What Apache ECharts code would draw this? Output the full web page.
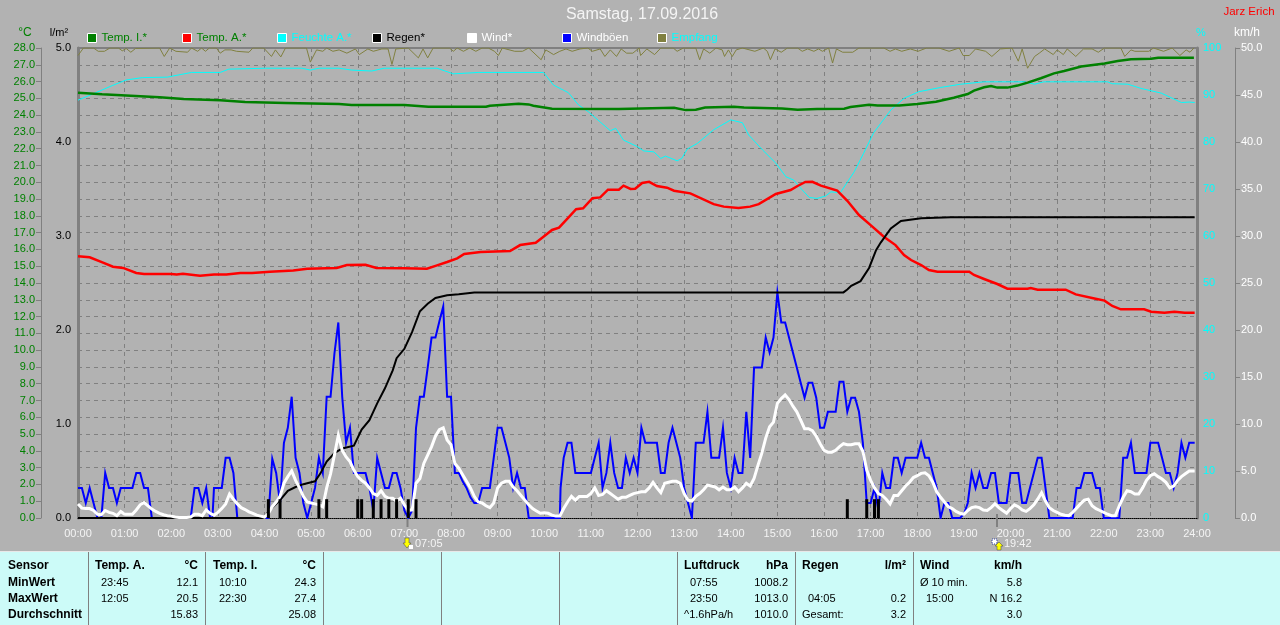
<!DOCTYPE html>
<html>
<head>
<meta charset="utf-8">
<style>html,body{margin:0;padding:0;background:#b2b2b2;overflow:hidden}#c{width:1280px;height:625px}</style>
<script src="https://cdn.jsdelivr.net/npm/echarts@6/dist/echarts.min.js"></script>
</head>
<body>
<div id="c"></div>
<script>
const titleText = 'Samstag, 17.09.2016';
const authorText = 'Jarz Erich';
const tempTicks = 28, rainMax = 5, humMax = 100, windMax = 50;

// [minute of day, value]
const tempInner = [[0,25.34],[31,25.24],[68,25.16],[105,25.06],[136,24.96],[183,24.88],[215,24.78],[267,24.72],[336,24.66],[352,24.6],[420,24.6],[451,24.5],[525,24.5],[530,24.56],[567,24.68],[580,24.64],[586,24.56],[610,24.38],[696,24.37],[698,24.45],[767,24.44],[782,24.3],[795,24.32],[807,24.45],[844,24.5],[857,24.45],[906,24.4],[926,24.32],[951,24.37],[986,24.38],[994,24.48],[1018,24.62],[1029,24.57],[1057,24.57],[1080,24.66],[1104,24.8],[1127,25.04],[1145,25.26],[1153,25.46],[1166,25.66],[1175,25.74],[1183,25.64],[1196,25.64],[1209,25.76],[1222,25.94],[1239,26.2],[1256,26.49],[1269,26.63],[1291,26.9],[1321,27.08],[1338,27.22],[1355,27.33],[1381,27.36],[1390,27.42],[1436,27.42]];
const tempOuter = [[0,15.6],[15,15.53],[33,15.2],[45,14.97],[58,14.9],[75,14.6],[85,14.54],[120,14.54],[127,14.5],[135,14.55],[157,14.43],[175,14.5],[191,14.5],[209,14.6],[224,14.6],[247,14.67],[277,14.74],[295,14.85],[333,14.9],[346,15.07],[370,15.08],[384,14.9],[419,14.88],[449,14.85],[462,15.05],[475,15.25],[488,15.47],[497,15.73],[518,15.85],[556,15.9],[569,16.26],[589,16.4],[599,16.76],[610,17.16],[619,17.3],[631,17.9],[641,18.4],[650,18.45],[662,19.05],[672,19.1],[682,19.56],[696,19.56],[702,19.8],[711,19.6],[717,19.62],[726,19.96],[735,20.03],[745,19.78],[758,19.68],[767,19.5],[788,19.34],[818,18.7],[831,18.55],[850,18.47],[865,18.55],[876,18.7],[898,19.3],[917,19.54],[926,19.78],[936,20.02],[945,20.03],[956,19.8],[977,19.5],[990,18.9],[1005,18.05],[1020,17.45],[1037,16.76],[1052,16.26],[1063,15.67],[1072,15.37],[1085,15.07],[1095,14.77],[1106,14.67],[1147,14.67],[1153,14.48],[1166,14.24],[1183,13.94],[1196,13.66],[1222,13.66],[1226,13.7],[1235,13.6],[1271,13.6],[1284,13.32],[1308,13.08],[1321,12.95],[1331,12.63],[1342,12.43],[1372,12.43],[1381,12.29],[1398,12.23],[1411,12.29],[1424,12.23],[1437,12.23]];
const humidity = [[0,88.9],[23,90.5],[44,92],[62,93.2],[83,93.7],[115,93.8],[146,94.8],[183,94.8],[194,95.5],[241,95.7],[288,95.7],[299,95.3],[310,95.7],[336,95.7],[352,95.3],[378,95.1],[394,95.7],[462,95.7],[483,94.5],[515,94.8],[599,94.8],[612,92.1],[625,91],[631,90.5],[644,87.9],[657,86.4],[685,82.4],[692,82.9],[702,80.4],[720,79],[728,78.1],[741,77.9],[750,76.5],[756,77],[771,76],[777,76.5],[784,78.5],[797,79.7],[818,82.6],[840,84.7],[855,84.1],[863,81.5],[881,78.3],[898,75.5],[911,72.6],[921,71.9],[932,69.8],[941,68.2],[951,68],[962,68.5],[969,69.4],[981,69.2],[999,73.7],[1011,77.6],[1024,82],[1046,86.8],[1063,89.3],[1082,90.7],[1110,91.6],[1136,92.3],[1166,92.8],[1218,92.8],[1231,92.3],[1243,92.8],[1325,92.8],[1331,92.4],[1351,92.3],[1368,91.4],[1394,90.4],[1420,88.4],[1430,88.5],[1437,88.4]];
const rainTotal = [[0,0],[240,0],[245,0.07],[260,0.19],[270,0.29],[280,0.33],[290,0.36],[300,0.38],[305,0.39],[312,0.475],[320,0.6],[330,0.69],[340,0.74],[355,0.77],[365,0.94],[375,1.04],[385,1.22],[395,1.38],[405,1.57],[410,1.7],[420,1.8],[430,1.98],[440,2.2],[450,2.28],[460,2.34],[475,2.37],[490,2.38],[510,2.4],[985,2.4],[990,2.43],[995,2.47],[1007,2.52],[1018,2.66],[1027,2.85],[1033,2.93],[1046,3.08],[1059,3.16],[1085,3.19],[1123,3.2],[1437,3.2]];
const rainBars = [[245,0.2],[260,0.2],[310,0.2],[320,0.2],[360,0.2],[365,0.2],[380,0.2],[390,0.2],[400,0.2],[410,0.2],[425,0.2],[435,0.2],[990,0.2],[1015,0.2],[1025,0.2],[1030,0.2]];
const wind = [[0,1.5],[5,1.05],[10,1],[15,1],[20,0.8],[25,0.4],[30,0.35],[35,0.8],[40,0.6],[45,0.5],[50,0.25],[55,0.7],[60,0.4],[70,0.4],[75,0.85],[80,1.4],[85,1.65],[90,1.3],[95,0.95],[100,0.7],[105,0.5],[110,0.35],[115,0.25],[120,0.2],[125,0.1],[130,0.05],[140,0.05],[145,0.1],[150,0.4],[155,0.4],[160,0.25],[165,0.85],[170,0.5],[175,0.3],[180,0.6],[185,1],[190,1.5],[195,2.55],[200,2],[205,1.5],[210,1.1],[215,0.9],[220,0.65],[225,0.5],[230,0.3],[235,0.2],[240,0.1],[245,0.5],[250,1.2],[255,1.7],[260,2.3],[265,3.7],[270,4.4],[275,5],[280,4],[285,3.2],[290,2.3],[295,1.7],[300,1.6],[305,1.5],[310,1.4],[315,1.2],[320,3.2],[325,4.7],[330,6.7],[335,8.8],[340,7.2],[345,6.5],[350,6],[355,5.1],[360,4.4],[365,4],[370,3.7],[375,3.2],[380,2.6],[385,2.4],[390,2.9],[395,2.3],[400,2.1],[405,2.1],[410,1.8],[415,2.1],[420,1.4],[425,0.85],[430,0.85],[435,3.7],[440,4.2],[445,5.8],[450,6.7],[455,7.6],[460,8.7],[465,9.4],[470,9.6],[475,8.3],[480,7.8],[485,5.8],[490,5.3],[495,4.6],[500,3.9],[505,3.2],[510,2.3],[515,1.7],[520,1.6],[525,1.3],[530,1.1],[535,1.6],[540,3.2],[545,3.7],[550,3.9],[555,3.9],[560,3.3],[565,2.9],[570,2.4],[575,1.9],[580,1.4],[585,1],[590,0.75],[595,0.5],[600,0.55],[605,0.5],[610,0.3],[615,0.2],[620,0.2],[625,1],[630,1.7],[635,2.3],[640,1.9],[645,2.3],[655,2.3],[660,2.6],[665,3.2],[670,2.4],[675,2.5],[680,2.9],[685,2.6],[690,2.3],[695,2],[700,2.2],[705,2.2],[710,2.4],[715,2.6],[720,2.7],[725,2.8],[730,2.8],[735,3.2],[740,3.8],[745,3.2],[750,2.7],[755,3.7],[760,3.8],[765,3.9],[770,3.9],[775,3.7],[780,2.6],[785,1.9],[790,1.8],[795,2.3],[800,2.6],[805,3],[810,3.5],[815,3.4],[820,3.3],[825,3],[830,3.3],[835,3],[840,3],[845,3.3],[850,2.8],[855,3.2],[860,3.7],[865,3.4],[870,4.2],[875,5.6],[880,6.9],[885,8.5],[890,9.7],[895,10.2],[900,12.2],[905,12.7],[910,13.1],[915,12.6],[920,11.9],[925,11.3],[930,10.4],[935,9.5],[940,9.5],[945,9.3],[950,8.7],[955,7.9],[960,7.2],[965,7],[970,7],[975,7.2],[980,7.6],[985,7.9],[990,7.8],[995,7.8],[1000,7.9],[1005,7.9],[1010,7.1],[1015,5.1],[1020,4],[1025,3.2],[1030,2.6],[1035,2.4],[1040,2],[1045,1.5],[1050,2.4],[1055,2.4],[1060,2.9],[1065,3.4],[1070,3.8],[1075,4.3],[1080,4.5],[1085,4.75],[1090,4.8],[1095,4.5],[1100,3.8],[1105,2.8],[1110,2.2],[1115,1.7],[1120,1.2],[1125,1],[1130,0.7],[1135,0.5],[1140,0.4],[1145,0.8],[1150,1.1],[1155,1.2],[1160,1.1],[1165,0.85],[1170,0.8],[1175,1.1],[1180,1.5],[1185,1.1],[1190,0.8],[1195,0.5],[1200,1],[1205,1.4],[1210,1.2],[1215,0.85],[1220,0.7],[1225,1],[1230,1.4],[1235,2],[1240,2.7],[1245,1.8],[1250,1.1],[1255,0.8],[1260,0.6],[1265,0.4],[1270,0.3],[1275,0.25],[1280,0.6],[1285,1.05],[1290,1.5],[1295,1.9],[1300,2],[1305,1.3],[1310,1],[1315,0.8],[1320,0.6],[1325,0.4],[1330,0.25],[1335,0.25],[1340,1.3],[1345,2.2],[1350,2.9],[1355,2.8],[1360,2.55],[1365,2.55],[1370,3.2],[1375,4],[1380,4.5],[1385,4.7],[1390,4.4],[1395,4.15],[1400,3.8],[1405,3.2],[1410,3.4],[1415,4],[1420,4.4],[1425,4.7],[1430,5],[1437,5]];
const gusts = [[0,3.2],[5,3.2],[10,1.6],[15,3.2],[20,1.6],[25,0],[30,0],[35,4.8],[40,3.2],[45,3.2],[50,1.6],[55,3.2],[60,3.2],[70,3.2],[75,4.8],[80,4.8],[85,3.2],[90,3.2],[95,0],[145,0],[150,3.2],[155,3.2],[160,1.6],[165,3.2],[170,0],[173,0],[175,3.2],[185,3.2],[190,6.4],[195,6.4],[200,4.8],[205,0],[245,0],[250,6.3],[255,4.8],[260,1.6],[265,8],[270,9.6],[275,12.9],[280,6.4],[285,4.8],[290,1.6],[295,0],[300,1.6],[305,3.2],[310,6.4],[315,4.8],[320,12.9],[325,12.9],[330,17.5],[335,20.8],[340,12.9],[345,8],[350,9.6],[355,4.8],[370,4.8],[375,3.2],[380,0.8],[385,6.4],[390,4.8],[395,3.2],[400,3.2],[405,4.8],[410,4.8],[415,3.2],[420,0.8],[425,0],[430,0.8],[435,9.6],[440,12.9],[445,12.9],[450,16],[455,19.2],[460,19.2],[465,20.9],[470,22.5],[475,12.9],[480,12.9],[485,4.8],[490,4.8],[495,3.9],[500,3.2],[505,2.2],[510,1.6],[515,1.6],[520,3.2],[530,3.2],[535,6.4],[540,9.6],[545,9.6],[550,8],[555,6.4],[560,3.2],[565,4.8],[570,3.2],[575,3.2],[580,0],[620,0],[621,3.2],[625,6.4],[630,8],[635,8],[640,4.8],[660,4.8],[665,6.4],[670,8],[675,3.2],[680,4.8],[685,8],[690,4.8],[695,3.2],[700,3.2],[705,6.4],[710,4.8],[715,6.4],[720,4.8],[725,9.6],[730,8],[745,8],[750,4.8],[755,4.8],[760,8],[765,9.6],[770,8],[775,6.4],[780,3.2],[785,1.6],[790,0],[795,8],[805,8],[810,11.3],[815,6.4],[825,6.4],[830,9.6],[835,4.8],[840,3.2],[845,6.4],[850,4.8],[855,4.8],[860,11.3],[865,6.4],[870,16],[880,16],[885,19.2],[890,17.6],[895,19.2],[900,24],[905,20.8],[910,20.8],[915,19.2],[920,17.6],[925,16],[930,14.4],[935,12.8],[940,14.4],[945,14.4],[950,12.8],[955,9.6],[960,9.6],[965,11.3],[975,11.3],[980,14.5],[985,14.5],[990,11.3],[995,12.8],[1000,12.8],[1005,11.3],[1010,8],[1015,1.6],[1020,1.6],[1025,3.2],[1030,0.8],[1035,4.8],[1040,3.2],[1045,3.2],[1050,6.4],[1055,6.4],[1060,4.8],[1065,6.4],[1080,6.4],[1085,8],[1090,6.4],[1095,6.4],[1100,4.8],[1105,3.2],[1110,0],[1115,1.6],[1120,1.6],[1125,0],[1135,0],[1140,0.4],[1145,1.6],[1150,4.8],[1155,3.2],[1160,4.8],[1165,3.2],[1170,3.2],[1175,4.8],[1180,4.8],[1185,1.6],[1195,1.6],[1200,4.8],[1210,4.8],[1215,1.6],[1220,1.6],[1225,3.2],[1230,4.8],[1235,6.4],[1240,6.4],[1245,3.2],[1250,0],[1280,0],[1285,3.2],[1290,3.2],[1295,4.8],[1305,4.8],[1310,3.2],[1315,3.2],[1320,0],[1340,0],[1345,6.4],[1350,6.4],[1355,8],[1360,4.8],[1375,4.8],[1380,8],[1390,8],[1395,6.4],[1400,4.8],[1405,4.8],[1410,3.2],[1415,4.8],[1420,8],[1425,6.4],[1430,8],[1437,8]];
const reception = [[0,98.4],[7,100],[20,100],[26,99.3],[34,99.3],[41,100],[52,100],[57,99.4],[62,99.9],[68,99.1],[74,99.9],[105,100],[111,98.2],[118,100],[126,99.3],[141,99.1],[146,100],[154,99.3],[159,100],[164,99.3],[169,100],[178,100],[183,98.9],[189,99.6],[197,99.6],[204,99.3],[220,99.1],[225,100],[239,100],[249,98.2],[254,99.6],[261,98.1],[267,100],[294,100],[299,97],[307,99.6],[315,99.3],[320,100],[328,99.3],[336,99.6],[346,98.9],[357,99.8],[362,98.6],[373,99.8],[380,99.3],[391,99.8],[399,99.8],[404,96.5],[409,99.8],[425,100],[438,97.9],[444,99.8],[450,97.9],[457,100],[478,100],[483,99.3],[488,100],[496,99.3],[504,100],[512,99.3],[520,100],[528,100],[536,99.3],[541,98.4],[546,100],[562,99.3],[572,99.3],[580,100],[596,97.5],[602,99.6],[612,98.6],[620,99.3],[628,99.8],[636,99.3],[646,99.8],[656,100],[662,99.3],[672,99.8],[678,98.2],[685,99.6],[693,98.2],[699,99.8],[706,98.9],[714,98.9],[722,100],[724,98.4],[732,99.8],[742,98.6],[750,100],[766,100],[771,99.3],[779,100],[795,100],[800,97.5],[805,99.8],[813,98.9],[821,100],[829,99.6],[832,98.2],[837,99.6],[842,98.2],[847,99.6],[855,100],[871,99.3],[882,100],[887,99.3],[891,97.5],[897,99.8],[905,99.1],[913,100],[926,100],[932,99.3],[939,99.8],[947,99.3],[953,99.8],[958,99.3],[966,100],[971,96.8],[976,99.8],[984,99.1],[997,99.1],[1005,100],[1037,100],[1045,99.3],[1052,99.8],[1060,99.3],[1071,99.8],[1081,99.3],[1092,100],[1108,100],[1121,99.3],[1134,100],[1139,98.4],[1147,98.4],[1155,99.8],[1168,99.3],[1176,98.2],[1187,99.8],[1202,100],[1210,97.2],[1215,99.8],[1222,95.7],[1231,98.2],[1237,98.9],[1244,99.8],[1255,98.6],[1260,99.6],[1268,98.6],[1273,99.8],[1284,98.2],[1294,99.8],[1305,99.8],[1313,99.1],[1321,100],[1342,100],[1347,98.2],[1355,99.6],[1360,99.3],[1378,99.3],[1384,100],[1397,99.3],[1408,100],[1418,98.4],[1426,99.6],[1431,99.1],[1436,100]];

const legendNames = ['Temp. I.*','Temp. A.*','Feuchte A.*','Regen*','Wind*','Windböen','Empfang'];
const legendSwatches = ['#008000','#ff0000','#00ffff','#000000','#ffffff','#0000ff','#808040'];
const legendTextColors = ['#008000','#008000','#00ffff','#000000','#ffffff','#ffffff','#00ffff'];

const panelSensor = ['Sensor','MinWert','MaxWert','Durchschnitt'];
const panelTempA = {head:'Temp. A.',unit:'°C',left:['23:45','12:05',''],right:['12.1','20.5','15.83']};
const panelTempI = {head:'Temp. I.',unit:'°C',left:['10:10','22:30',''],right:['24.3','27.4','25.08']};
const panelPress = {head:'Luftdruck',unit:'hPa',left:['07:55','23:50','^1.6hPa/h'],right:['1008.2','1013.0','1010.0']};
const panelRain = {head:'Regen',unit:'l/m²',left:['','04:05','Gesamt:'],right:['','0.2','3.2']};
const panelWind = {head:'Wind',unit:'km/h',left:['Ø 10 min.','15:00',''],right:['5.8','N 16.2','3.0']};
const sunriseText = '07:05', sunsetText = '19:42';

const FONT = '"Liberation Sans", Arial, sans-serif';
const GRID = {left:78, right:83, top:48, bottom:107};
const AXIS = '#808080';
const fmt1 = v => v.toFixed(1);
const hhmm = v => String(v/60).padStart(2,'0') + ':00';

function txt(text,x,y,o){o=o||{};return {type:'text',silent:true,z:o.z||10,style:{text,x,y,fill:o.fill||'#000',textAlign:o.align||'left',textVerticalAlign:'middle',font:(o.bold?'bold ':'')+(o.size||11)+'px '+FONT}};}
function vline(x,y1,y2,c,w){return {type:'line',silent:true,z:5,shape:{x1:x,y1,x2:x,y2},style:{stroke:c,lineWidth:w||1}};}

const rowY = [566,583,599,615];
const graphics = [
  {type:'rect',silent:true,z:1,shape:{x:0,y:552,width:1280,height:73},style:{fill:'#ccfbf8'}},
  {type:'line',silent:true,z:2,shape:{x1:0,y1:551.5,x2:1280,y2:551.5},style:{stroke:'#e8e8e8',lineWidth:1}},
  txt(titleText,642,15,{fill:'#f4f4f4',size:16,align:'center'}),
  txt(authorText,1249,12,{fill:'#ff0000',size:11.5,align:'center'}),
  txt('°C',25,33,{fill:'#008000',size:12,align:'center'}),
  txt('l/m²',59,33,{size:11,align:'center'}),
  txt('%',1201,33,{fill:'#00ffff',size:11,align:'center'}),
  txt('km/h',1247,33,{fill:'#ffffff',size:12,align:'center'})
];
[88,205,323,441,559,677,795,913].forEach(x=>graphics.push(vline(x+0.5,552,625,'#808080',1)));
panelSensor.forEach((s,i)=>graphics.push(txt(s,8,rowY[i],{bold:true,size:12})));
[[panelTempA,95,198],[panelTempI,213,316],[panelPress,684,788],[panelRain,802,906],[panelWind,920,1022]].forEach(([c,lx,rx])=>{
  graphics.push(txt(c.head,lx,rowY[0],{bold:true,size:12}));
  graphics.push(txt(c.unit,rx,rowY[0],{bold:true,size:12,align:'right'}));
  c.left.forEach((s,i)=>{ if(s){ const isWord=/[^0-9:]/.test(s); graphics.push(txt(s,isWord?lx:lx+6,rowY[i+1],{size:11})); }});
  c.right.forEach((s,i)=>{ if(s) graphics.push(txt(s,rx,rowY[i+1],{size:11,align:'right'})); });
});
// sunrise / sunset markers below the axis
graphics.push(vline(407.5,518,527,'#808080',2));
graphics.push(vline(997,514,527,'#808080',2));
graphics.push({type:'polygon',silent:true,z:6,shape:{points:[[405,538],[409,538],[409,543],[411,543],[407,548],[403,543],[405,543]]},style:{fill:'#ffff00',stroke:'#404040',lineWidth:0.5}});
graphics.push({type:'rect',silent:true,z:6,shape:{x:409,y:545,width:4,height:4},style:{fill:'#ffffff'}});
graphics.push(txt(sunriseText,415,544,{fill:'#f4f4f4',size:11}));
graphics.push({type:'rect',silent:true,z:6,shape:{x:992,y:539,width:5,height:5},style:{fill:'#ffffff',stroke:'#3040a0',lineWidth:1,lineDash:[1,1]}});
graphics.push({type:'polygon',silent:true,z:6,shape:{points:[[999,542],[1003,546],[1001,546],[1001,550],[997,550],[997,546],[995,546]]},style:{fill:'#ffff00',stroke:'#404040',lineWidth:0.5}});
graphics.push(txt(sunsetText,1004,544,{fill:'#f4f4f4',size:11}));

const legends = legendNames.map((n,i)=>({
  show:true, left:87+95*i, top:32, itemWidth:9, itemHeight:9, itemGap:5, padding:0, selectedMode:false,
  orient:'horizontal', textStyle:{color:legendTextColors[i],fontFamily:FONT,fontSize:11.5,padding:[0,0,0,0]},
  data:[{name:n,icon:'rect',itemStyle:{color:legendSwatches[i],borderColor:'#ffffff',borderWidth:1,opacity:1}}]
}));

function lineSeries(name,data,color,width,axis,z){
  return {name,type:'line',data,yAxisIndex:axis,showSymbol:false,symbol:'none',smooth:false,z,silent:true,
    animation:false,lineStyle:{color,width,cap:'butt',join:'miter'},itemStyle:{color}};
}
const labelBase = {fontFamily:FONT,fontSize:11};

const option = {
  backgroundColor:'#b2b2b2', animation:false, textStyle:{fontFamily:FONT},
  graphic:{elements:graphics},
  legend:legends,
  grid:{left:GRID.left,right:GRID.right,top:GRID.top,bottom:GRID.bottom,containLabel:false},
  xAxis:[
    {type:'value',min:0,max:1440,interval:60,position:'bottom',
     axisLine:{show:true,onZero:false,lineStyle:{color:'#000',type:'dotted',width:1}},axisTick:{show:false},
     axisLabel:{...labelBase,color:'#f4f4f4',formatter:hhmm,margin:10,showMinLabel:true,showMaxLabel:true},
     splitLine:{show:true,lineStyle:{color:'#808080',type:[4,4],width:1}},z:3},
    {type:'value',min:0,max:1440,interval:60,position:'top',
     axisLine:{show:true,onZero:false,lineStyle:{color:AXIS,width:2}},axisTick:{show:false},axisLabel:{show:false},splitLine:{show:false}}
  ],
  yAxis:[
    {type:'value',min:0,max:tempTicks,interval:1,position:'left',offset:37,
     axisLine:{show:true,onZero:false,lineStyle:{color:AXIS,width:1}},axisTick:{show:true,length:5,lineStyle:{color:AXIS}},
     axisLabel:{...labelBase,color:'#008000',margin:6,formatter:fmt1},
     splitLine:{show:true,lineStyle:{color:'#808080',type:[4,4],width:1}}},
    {type:'value',min:0,max:rainMax,interval:1,position:'left',offset:0,
     axisLine:{show:true,onZero:false,lineStyle:{color:AXIS,width:3}},axisTick:{show:false},
     axisLabel:{...labelBase,color:'#000',margin:7,formatter:fmt1},splitLine:{show:false}},
    {type:'value',min:0,max:humMax,interval:10,position:'right',offset:0,
     axisLine:{show:true,onZero:false,lineStyle:{color:AXIS,width:3}},axisTick:{show:false},
     axisLabel:{...labelBase,color:'#00ffff',margin:6},splitLine:{show:false}},
    {type:'value',min:0,max:windMax,interval:5,position:'right',offset:38,
     axisLine:{show:true,onZero:false,lineStyle:{color:AXIS,width:1}},axisTick:{show:true,length:5,lineStyle:{color:AXIS}},
     axisLabel:{...labelBase,color:'#ffffff',margin:6,formatter:fmt1},splitLine:{show:false}}
  ],
  series:[
    lineSeries(legendNames[6],reception,'#808040',1,2,10),
    lineSeries(legendNames[2],humidity,'#00ffff',1,2,11),
    lineSeries(legendNames[0],tempInner,'#008000',2.5,0,12),
    lineSeries(legendNames[1],tempOuter,'#ff0000',2.5,0,13),
    lineSeries(legendNames[5],gusts,'#0000ff',2,3,14),
    lineSeries(legendNames[3],rainTotal,'#000000',2,1,15),
    lineSeries(legendNames[4],wind,'#ffffff',3,3,16),
    {name:legendNames[3],type:'bar',yAxisIndex:1,data:rainBars,barWidth:3,z:17,silent:true,itemStyle:{color:'#000000'}}
  ]
};
echarts.init(document.getElementById('c'),null,{renderer:'canvas'}).setOption(option);
</script>
</body>
</html>
